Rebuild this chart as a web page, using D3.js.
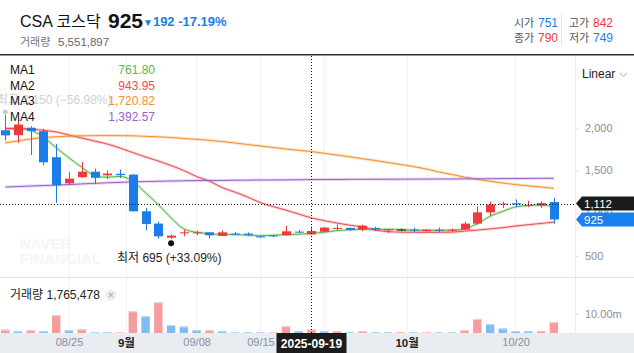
<!DOCTYPE html>
<html>
<head>
<meta charset="utf-8">
<script src="https://cdn.jsdelivr.net/npm/d3@7"></script>
<style>
  body { margin: 0; background: #fff; }
  text { font-family: "Liberation Sans", "Noto Sans CJK KR", sans-serif; }
</style>
</head>
<body>
<script>
// trading days shown
var dates = ["08/18","08/19","08/20","08/21","08/22","08/25","08/26","08/27","08/28","08/29",
  "09/01","09/02","09/03","09/04","09/05","09/08","09/09","09/10","09/11","09/12",
  "09/15","09/16","09/17","09/18","09/19","09/22","09/23","09/24","09/25","09/26",
  "09/29","09/30","10/01","10/02","10/10","10/13","10/14","10/15","10/16","10/17",
  "10/20","10/21","10/22","10/23"];

var opens  = [1970,1912,1999,1959,1654,1349,1420,1485,1443,1460,
  1451,1021,877,712,763,765,775,733,760,760,
  728,740,740,783,751,782,820,826,807,826,
  805,807,807,790,805,797,807,877,1009,1100,
  1115,1085,1088,1130];
var highs  = [2150,2095,2017,1987,1811,1478,1600,1520,1500,1510,
  1455,1061,900,750,806,795,775,798,780,775,
  735,745,853,803,842,835,865,830,865,840,
  812,818,830,808,830,820,900,1080,1135,1135,
  1160,1145,1135,1180];
var lows   = [1850,1822,1680,1560,1120,1340,1415,1342,1400,1410,
  1018,798,701,695,728,740,705,730,740,735,
  710,720,735,763,749,780,795,795,787,790,
  768,795,775,785,775,780,800,865,970,1060,
  1070,1070,1060,875];
var closes = [1910,2037,1960,1595,1326,1404,1485,1413,1463,1445,
  1021,873,728,736,775,775,740,775,752,745,
  716,728,787,771,790,830,827,803,853,810,
  810,807,795,805,797,805,877,1009,1100,1111,
  1100,1096,1117,925];

var volumes = [1700000,900000,1400000,900000,9100000,1400000,1900000,400000,350000,500000,
  11100000,8600000,15700000,4100000,3300000,1400000,1450000,900000,400000,350000,
  300000,350000,3400000,900000,1765478,900000,1000000,400000,900000,400000,
  350000,400000,350000,400000,300000,250000,1400000,7200000,4500000,2300000,
  1000000,900000,1100000,5551897];

var ma1 = [1990,1990,1970,1890,1765,1647,1537,1440,1420,1430,
  1373,1237,1100,944,815,775,760,748,748,740,
  736,740,748,752,761.8,775,795,803,810,810,
  812,807,800,800,800,800,815,877,963,1021,
  1073,1088,1096,1070];
var ma2 = [1990,1990,1984,1970,1950,1914,1879,1844,1809,1762,
  1709,1657,1610,1557,1498,1428,1375,1299,1246,1188,
  1123,1076,1035,989,943.95,912,883,859,836,801,
  783,777,775,775,775,777,789,801,815,830,
  848,865,879,894];
var ma3 = [1821,1846,1868,1885,1894,1901,1905,1907,1908,1907,
  1905,1899,1893,1885,1873,1864,1852,1838,1821,1803,
  1786,1768,1750,1735,1720.82,1700,1680,1659,1637,1615,
  1592,1569,1545,1516,1481,1452,1422,1395,1372,1352,
  1334,1319,1305,1290];
var ma4 = [1305,1311,1317,1322,1328,1334,1342,1348,1355,1360,
  1366,1369,1373,1376,1378,1381,1382,1383,1385,1386,
  1387,1388,1389,1390,1392.57,1393,1394,1395,1396,1396,
  1397,1397,1398,1398,1399,1400,1401,1402,1403,1404,
  1405,1406,1407,1408];

var maNames = ["MA1","MA2","MA3","MA4"];
var maColors = ["#58b947","#ef4b4f","#f5902a","#9d5fd1"];
var maSeries = [ma1, ma2, ma3, ma4];

var priceTicks = [500, 1000, 1500, 2000];
var dayTicks = ["08/25","09/08","09/15","10/20"];
var gridDays = ["08/25","09/08","09/15","09/22","10/20"];
var monthTicks = [{after: "08/29", label: "9월"}, {after: "09/30", label: "10월"}];

var hoverIdx = 24;          // 2025-09-19
var hoverPrice = 1112;
var lastPrice = 925;

var width = 634, height = 353;
var RED = "#ee3a3d", BLUE = "#1a7de9";

var svg = d3.select("body").append("svg")
  .attr("width", width).attr("height", height);

var x = d3.scalePoint().domain(dates).range([5.2, 553.9]);
var y = d3.scaleLinear().domain([500, 2000]).range([255.8, 127.7]);
var yVol = d3.scaleLinear().domain([0, 10000000]).range([333, 313.5]);

var monthX = d => (x(d.after) + x(dates[dates.indexOf(d.after) + 1])) / 2;

// ---------- header ----------
svg.append("text").attr("x", 20).attr("y", 27).attr("font-size", 16).attr("fill", "#111").text("CSA 코스닥");
svg.append("text").attr("x", 108).attr("y", 28).attr("font-size", 21).attr("font-weight", "bold").attr("fill", "#111").text("925");
svg.append("text").attr("x", 143).attr("y", 26).attr("font-size", 13).attr("font-weight", "bold").attr("fill", BLUE)
  .call(t => {
    t.append("tspan").attr("font-size", 10).text("▼");
    t.append("tspan").text("192 -17.19%");
  });
svg.append("text").attr("x", 20).attr("y", 46).attr("font-size", 11).attr("fill", "#777").text("거래량");
svg.append("text").attr("x", 58).attr("y", 46).attr("font-size", 11.5).attr("fill", "#666").text("5,551,897");

var ohlcInfo = [
  {lab: "시가", val: opens[hoverIdx], col: BLUE, x: 514, y: 27},
  {lab: "종가", val: closes[hoverIdx], col: RED, x: 514, y: 42},
  {lab: "고가", val: highs[hoverIdx], col: RED, x: 569, y: 27},
  {lab: "저가", val: lows[hoverIdx], col: BLUE, x: 569, y: 42}
];
ohlcInfo.forEach(d => {
  svg.append("text").attr("x", d.x).attr("y", d.y).attr("font-size", 11).attr("fill", "#555").text(d.lab);
  svg.append("text").attr("x", d.x + 24).attr("y", d.y).attr("font-size", 12).attr("fill", d.col).text(d.val);
});
svg.append("line").attr("x1", 561.5).attr("x2", 561.5).attr("y1", 13).attr("y2", 45).attr("stroke", "#e6e6e6");
svg.append("rect").attr("x", 0).attr("y", 54).attr("width", width).attr("height", 1.5).attr("fill", "#2e2e2e");

// ---------- frame / grid ----------
svg.append("rect").attr("x", 0).attr("y", 333).attr("width", width).attr("height", 20).attr("fill", "#e9ecf0");

var gridX = gridDays.map(d => x(d)).concat(monthTicks.map(monthX));
svg.append("g").selectAll("line").data(gridX).join("line")
  .attr("x1", d => d).attr("x2", d => d).attr("y1", 56).attr("y2", 333)
  .attr("stroke", "#eef0f3");
svg.append("line").attr("x1", 575.5).attr("x2", 575.5).attr("y1", 56).attr("y2", 353).attr("stroke", "#e8ebef");
svg.append("line").attr("x1", 0).attr("x2", width).attr("y1", 277.5).attr("y2", 277.5).attr("stroke", "#dcdfe4");

// watermark
svg.append("text").attr("x", 20).attr("y", 249).attr("font-size", 15).attr("font-weight", "bold").attr("fill", "#f5f5f5").text("NAVER");
svg.append("text").attr("x", 20).attr("y", 264).attr("font-size", 15).attr("font-weight", "bold").attr("fill", "#f5f5f5").text("FINANCIAL");

// ---------- volume ----------
var volG = svg.append("g");
volumes.forEach((v, i) => {
  var up = i === 0 || v > volumes[i - 1];
  var top = yVol(v);
  volG.append("rect").attr("x", x(dates[i]) - 4.2).attr("y", top).attr("width", 8.4)
    .attr("height", 333 - top).attr("fill", up ? "#f59c9c" : "#80bbf4");
  volG.append("rect").attr("x", x(dates[i]) - 4.2).attr("y", top).attr("width", 8.4)
    .attr("height", Math.min(1, 333 - top)).attr("fill", up ? "#fbcaca" : "#b9daf9");
});

// ---------- MA lines ----------
var line = d3.line().x((d, i) => x(dates[i])).y(d => y(d)).curve(d3.curveMonotoneX);
var maG = svg.append("g");
maSeries.forEach((s, k) => {
  maG.append("path").attr("d", line(s)).attr("fill", "none")
    .attr("stroke", maColors[k]).attr("stroke-width", 3).attr("stroke-opacity", 0.25);
  maG.append("path").attr("d", line(s)).attr("fill", "none")
    .attr("stroke", maColors[k]).attr("stroke-width", 1);
});

// ---------- candles ----------
var candleG = svg.append("g");
dates.forEach((d, i) => {
  var col = closes[i] > opens[i] ? RED : (closes[i] < opens[i] ? BLUE : "#222");
  var cx = Math.round(x(d)) + 0.5;
  candleG.append("line").attr("x1", cx).attr("x2", cx)
    .attr("y1", y(highs[i])).attr("y2", y(lows[i])).attr("stroke", col);
  var top = y(Math.max(opens[i], closes[i])), bot = y(Math.min(opens[i], closes[i]));
  candleG.append("rect").attr("x", cx - 4.5).attr("y", top).attr("width", 9)
    .attr("height", Math.max(1, bot - top)).attr("fill", col);
});

// high / low markers
var hiIdx = highs.indexOf(d3.max(highs)), loIdx = lows.indexOf(d3.min(lows));
svg.append("circle").attr("cx", x(dates[hiIdx])).attr("cy", y(highs[hiIdx]) - 3).attr("r", 2.5).attr("fill", "#c9c9c9");
svg.append("text").attr("x", -3).attr("y", 104).attr("font-size", 12).attr("fill", "#d0d0d0")
  .text("최고 " + d3.format(",")(highs[hiIdx]) + " (" + d3.format("+.2f")((lastPrice / highs[hiIdx] - 1) * 100) + "%)");
svg.append("circle").attr("cx", x(dates[loIdx])).attr("cy", y(lows[loIdx]) + 4).attr("r", 3).attr("fill", "#111");
svg.append("text").attr("x", 117).attr("y", 262).attr("font-size", 12).attr("fill", "#222")
  .text("최저 " + lows[loIdx] + " (" + d3.format("+.2f")((lastPrice / lows[loIdx] - 1) * 100) + "%)");

// ---------- legend ----------
var legG = svg.append("g");
maNames.forEach((n, k) => {
  var ly = 74 + k * 15.5;
  legG.append("text").attr("x", 10).attr("y", ly).attr("font-size", 12).attr("fill", "#111").text(n);
  legG.append("text").attr("x", 155).attr("y", ly).attr("font-size", 12).attr("text-anchor", "end")
    .attr("fill", maColors[k]).text(d3.format(",.2f")(maSeries[k][hoverIdx]));
});

svg.append("text").attr("x", 10).attr("y", 299).attr("font-size", 12).attr("fill", "#222")
  .text("거래량 " + d3.format(",")(volumes[hoverIdx]));
svg.append("circle").attr("cx", 111).attr("cy", 295).attr("r", 5.5).attr("fill", "#ededed");
svg.append("path").attr("d", "M109,293L113,297M113,293L109,297").attr("stroke", "#b5b5b5").attr("stroke-width", 1.2);

// ---------- right axes ----------
var axY = svg.append("g").attr("transform", "translate(575,0)")
  .call(d3.axisRight(y).tickValues(priceTicks).tickSize(3).tickPadding(7).tickFormat(d3.format(",")));
axY.select(".domain").remove();
axY.selectAll("line").attr("stroke", "#d5d9e0");
axY.selectAll("text").attr("font-size", 11).attr("fill", "#8a8f98")
  .attr("font-family", "\"Liberation Sans\", sans-serif");

var axV = svg.append("g").attr("transform", "translate(575,0)")
  .call(d3.axisRight(yVol).tickValues([10000000]).tickSize(3).tickPadding(7)
    .tickFormat(d => (d / 1e6).toFixed(2) + "m"));
axV.select(".domain").remove();
axV.selectAll("line").attr("stroke", "#d5d9e0");
axV.selectAll("text").attr("font-size", 11).attr("fill", "#8a8f98")
  .attr("font-family", "\"Liberation Sans\", sans-serif");

svg.append("text").attr("x", 582).attr("y", 78).attr("font-size", 12).attr("fill", "#222").text("Linear");
svg.append("path").attr("d", "M620,73L623.5,76.5L627,73").attr("fill", "none").attr("stroke", "#aaa");

// ---------- date axis ----------
var axX = svg.append("g").attr("transform", "translate(0,333)")
  .call(d3.axisBottom(x).tickValues(dayTicks).tickSize(0).tickPadding(5));
axX.select(".domain").remove();
axX.selectAll("text").attr("font-size", 11).attr("fill", "#8a8f98")
  .attr("font-family", "\"Liberation Sans\", sans-serif");
svg.append("g").selectAll("text").data(monthTicks).join("text")
  .attr("x", monthX).attr("y", 347).attr("text-anchor", "middle")
  .attr("font-size", 11.5).attr("font-weight", "bold").attr("fill", "#222").text(d => d.label);

// ---------- crosshair ----------
var hx = Math.round(x(dates[hoverIdx])) + 0.5;
svg.append("line").attr("x1", hx).attr("x2", hx).attr("y1", 56).attr("y2", 333)
  .attr("stroke", "#111").attr("stroke-dasharray", "1,2");
svg.append("line").attr("x1", 0).attr("x2", 575).attr("y1", Math.round(y(hoverPrice)) + 0.5).attr("y2", Math.round(y(hoverPrice)) + 0.5)
  .attr("stroke", "#111").attr("stroke-dasharray", "1,2");
svg.append("rect").attr("x", hx - 35).attr("y", 333).attr("width", 70).attr("height", 20).attr("fill", "#1c1c1c");
svg.append("text").attr("x", hx).attr("y", 347.5).attr("text-anchor", "middle").attr("font-size", 12)
  .attr("font-weight", "bold").attr("fill", "#fff").text("2025-" + dates[hoverIdx].replace("/", "-"));

function priceTag(p, fill) {
  var cy = y(p);
  svg.append("path")
    .attr("d", `M576,${cy} L582,${cy - 7} L634,${cy - 7} L634,${cy + 7} L582,${cy + 7} Z`)
    .attr("fill", fill);
  svg.append("text").attr("x", 584).attr("y", cy + 4).attr("font-size", 11.5)
    .attr("fill", "#fff").text(d3.format(",")(p));
}
priceTag(lastPrice, "#1a7ff0");
priceTag(hoverPrice, "#1c1c1c");
</script>
</body>
</html>
